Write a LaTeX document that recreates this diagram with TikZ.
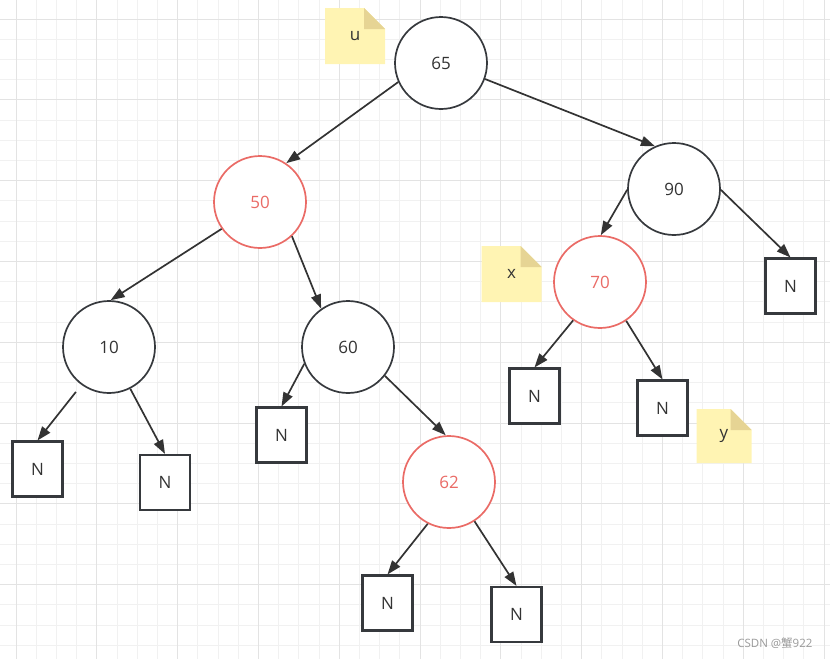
\documentclass[tikz,border=0pt]{standalone}
\usepackage{fontspec}
\setmainfont{Open Sans}
\newfontfamily\cjkfont{Noto Sans CJK SC}
\usetikzlibrary{arrows.meta}
\definecolor{nodeline}{HTML}{36393D}
\definecolor{nodered}{HTML}{EA6B66}
\definecolor{textdark}{HTML}{333333}
\definecolor{notefill}{HTML}{FFF4B3}
\definecolor{notefold}{HTML}{E6D494}
\definecolor{gridminor}{HTML}{F1F1F1}
\definecolor{gridmajor}{HTML}{E3E3E3}
\tikzset{
  tnode/.style={circle,draw=nodeline,line width=1.7pt,minimum size=92pt,inner sep=0pt,
    fill=white,text=textdark,font=\fontsize{17}{20}\selectfont},
  rnode/.style={tnode,draw=nodered,text=nodered},
  nilbox/.style={draw=nodeline,line width=2.1pt,minimum width=50pt,minimum height=55pt,
    inner sep=0pt,fill=white,text=textdark,font=\fontsize{17}{20}\selectfont},
  link/.style={-{Triangle[length=14pt,width=10pt]},line width=1.7pt,draw=textdark},
  memo/.style={minimum width=60pt,minimum height=56pt,inner sep=0pt,text=textdark,
    font=\fontsize{17}{20}\selectfont,
    path picture={
      \fill[notefill] (path picture bounding box.south west)
        -- (path picture bounding box.north west)
        -- ([xshift=-21pt]path picture bounding box.north east)
        -- ([yshift=-21pt]path picture bounding box.north east)
        -- (path picture bounding box.south east) -- cycle;
      \fill[notefold] ([xshift=-21pt]path picture bounding box.north east)
        -- ([yshift=-21pt]path picture bounding box.north east)
        -- ([xshift=-21pt,yshift=-21pt]path picture bounding box.north east) -- cycle;
    }},
}
\begin{document}
\begin{tikzpicture}[x=1pt,y=-1pt]
\useasboundingbox (0,0) rectangle (830,659);
% background grid
\foreach \k in {0,...,41}
  \draw[gridminor,line width=0.8pt] ({16+20.2*(\k-1)},0) -- ++(0,659);
\foreach \k in {0,...,33}
  \draw[gridminor,line width=0.8pt] (0,{19+20.2*(\k-1)}) -- ++(830,0);
\foreach \k in {0,...,10}
  \draw[gridmajor,line width=1pt] ({16+80.8*\k},0) -- ++(0,659);
\foreach \k in {0,...,8}
  \draw[gridmajor,line width=1pt] (0,{19+80.8*\k}) -- ++(830,0);

% tree nodes
\node[tnode] (t65) at (441,63) {65};
\node[rnode] (t50) at (260,202) {50};
\node[tnode] (t90) at (674,189) {90};
\node[rnode] (t70) at (600,282) {70};
\node[tnode] (t10) at (109,347) {10};
\node[tnode] (t60) at (348,347) {60};
\node[rnode] (t62) at (449,482) {62};

% nil leaves
\node[nilbox] (nA) at (37.5,469) {N};
\node[nilbox] (nB) at (165,482.5) {N};
\node[nilbox] (nC) at (281.5,435) {N};
\node[nilbox] (nD) at (790.5,286) {N};
\node[nilbox] (nE) at (534.5,396) {N};
\node[nilbox] (nF) at (662.5,408) {N};
\node[nilbox] (nG) at (387.5,603) {N};
\node[nilbox] (nH) at (516.5,614.5) {N};

% notes
\node[memo] (memou) at (355,36) {u};
\node[memo] (memox) at (511.5,274) {x};
\node[memo,minimum width=55pt,minimum height=54pt] (memoy) at (724,436) {y};

% links
\draw[link] (t65.204) -- (t50.56);
\draw[link] (t65.340) -- (t90.114);
\draw[link] (t50.215) -- (t10.88);
\draw[link] (t50.313) -- (t60.125);
\draw[link] (t90.181) -- (t70.89);
\draw[link] (t90.359) -- (nD.north);
\draw[link] (t70.235) -- (nE.north);
\draw[link] (t70.304) -- (nF.north);
\draw[link,shorten <=9pt] (t10.234) -- (nA.north);
\draw[link] (t10.297) -- (nB.north);
\draw[link] (t60.201) -- (nC.north);
\draw[link] (t60.322) -- (t62.94);
\draw[link] (t62.243) -- (nG.north);
\draw[link] (t62.303) -- (nH.north);

% watermark
\node[text=black!40,font=\fontsize{11.5}{13}\selectfont,anchor=east] (mark) at (816,643)
  {CSDN @{\cjkfont 蟹}922};
\end{tikzpicture}
\end{document}
